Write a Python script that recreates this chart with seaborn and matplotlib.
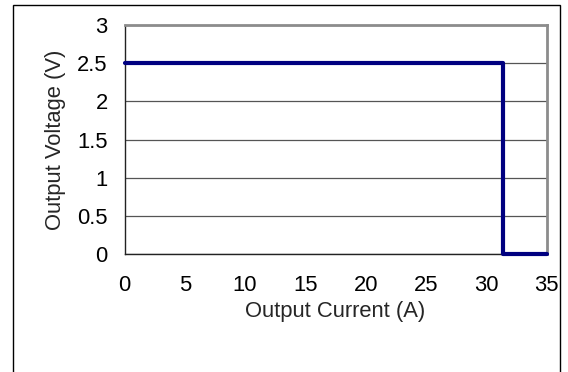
import matplotlib
matplotlib.use("Agg")
import matplotlib.pyplot as plt
import seaborn as sns
import pandas as pd
from matplotlib.patches import Rectangle

current = [0, 31.4, 31.4, 35]
voltage = [2.5, 2.5, 0, 0]
x_ticks = [0, 5, 10, 15, 20, 25, 30, 35]
y_ticks = [0, 0.5, 1, 1.5, 2, 2.5, 3]
y_tick_labels = ["0", "0.5", "1", "1.5", "2", "2.5", "3"]

sns.set_style("white")
plt.rcParams['font.family'] = ['Liberation Sans', 'DejaVu Sans']

fig = plt.figure(figsize=(5.68, 3.72), dpi=100)
ax = fig.add_axes([124.5/568, 1-254/372, (546.5-124.5)/568, (254-25)/372])

df = pd.DataFrame({"I": current, "V": voltage})
sns.lineplot(data=df, x="I", y="V", sort=False, estimator=None, ax=ax,
             color="#000080", linewidth=3.0, zorder=5, clip_on=False)

ax.set_xlim(0, 35)
ax.set_ylim(0, 3)
ax.set_xticks(x_ticks)
ax.set_xticklabels([str(t) for t in x_ticks])
ax.set_yticks(y_ticks)
ax.set_yticklabels(y_tick_labels)
ax.yaxis.grid(True, color="#555555", linewidth=0.9)
ax.set_axisbelow(True)

fs = 15.8
ax.tick_params(axis='x', direction='in', length=5, width=0.8, color='#333333',
               pad=15, labelsize=fs, labelcolor='black')
ax.tick_params(axis='y', direction='in', length=0, pad=12, labelsize=fs,
               labelcolor='black')

for s in ['left', 'bottom']:
    ax.spines[s].set_color('#222222')
    ax.spines[s].set_linewidth(1.0)
for s in ['top', 'right']:
    ax.spines[s].set_color('#8c8c8c')
    ax.spines[s].set_linewidth(2.0)

ax.set_xlabel("Output Current (A)", fontsize=fs, labelpad=4)
ax.set_ylabel("Output Voltage (V)", fontsize=fs, labelpad=8)

fig.patches.append(Rectangle((12.5/568, -0.1), (560-12.5)/568, 1.1 - 4.5/372,
                             transform=fig.transFigure, fill=False,
                             edgecolor='black', linewidth=1.0))

fig.savefig("out.png", dpi=100)
